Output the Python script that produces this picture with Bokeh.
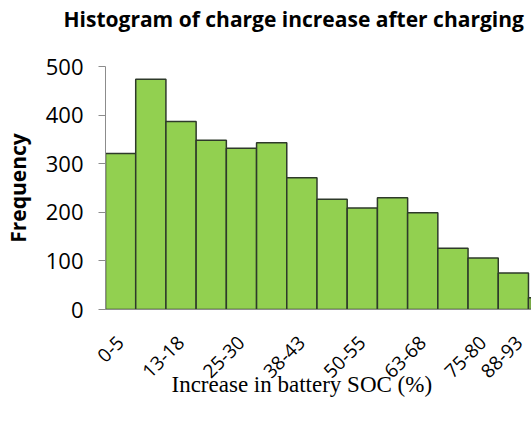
import math
from bokeh.plotting import figure
from bokeh.models import Range1d, FixedTicker, Title, LinearAxis
from bokeh.embed import file_html
from bokeh.resources import INLINE

# Data
bins = ["0-5", "6-12", "13-18", "19-24", "25-30", "31-37", "38-43", "44-49",
        "50-55", "56-62", "63-68", "69-74", "75-80", "81-87", "88-93"]
freq = [321, 474, 387, 348, 332, 343, 271, 227, 209, 230, 199, 126, 106, 75, 24]
y_ticks = [0, 100, 200, 300, 400, 500]
title_text = "Histogram of charge increase after charging"
x_label = "Increase in battery SOC (%)"
y_label = "Frequency"

positions = list(range(1, len(bins) + 1))
x_start, x_end = 0.5, 14.6

# every other bin is labelled; the last bar is cut off by the chart edge,
# so its label is pulled inside the visible part of the chart
tick_pos = positions[::2]
tick_pos[-1] = positions[-1] - 0.8
tick_text = {t: bins[i * 2] for i, t in enumerate(tick_pos)}

p = figure(width=531, height=431, output_backend="svg", toolbar_location=None,
           x_range=Range1d(x_start, x_end), y_range=Range1d(0, 500),
           min_border_left=102, min_border_right=0, min_border_top=66,
           min_border_bottom=122)
p.outline_line_color = None
p.xgrid.grid_line_color = None
p.ygrid.grid_line_color = None

p.vbar(x=positions, top=freq, width=1.0, bottom=0,
       fill_color="#92d050", line_color="#2e3a2a", line_width=1.5)

xaxis_main = p.below[0]
yaxis_main = p.left[0]

# invisible spacer axis between frame and title (one hidden tick, no label)
spacer = LinearAxis(ticker=FixedTicker(ticks=[positions[0]]),
                    major_label_overrides={positions[0]: ""},
                    axis_line_color=None, major_tick_line_color=None,
                    minor_tick_line_color=None, major_tick_out=34,
                    major_tick_in=0, major_label_standoff=0,
                    major_label_text_font_size="1px",
                    major_label_text_alpha=0)
p.add_layout(spacer, "above")

p.title.text = title_text
p.title.align = "left"
p.title.offset = -42
p.title.standoff = 0
p.title.text_font = "Open Sans"
p.title.text_font_style = "bold"
p.title.text_font_size = "21px"
p.title.text_color = "black"

# Y axis
yaxis_main.ticker = FixedTicker(ticks=y_ticks)
yaxis_main.axis_line_color = "#8c8c8c"
yaxis_main.major_tick_line_color = "#8c8c8c"
yaxis_main.major_tick_out = 7
yaxis_main.major_tick_in = 0
yaxis_main.minor_tick_line_color = None
yaxis_main.major_label_text_font = "Open Sans"
yaxis_main.major_label_text_font_size = "22px"
yaxis_main.major_label_text_color = "black"
yaxis_main.major_label_standoff = 15
yaxis_main.axis_label = y_label
yaxis_main.axis_label_text_font = "Open Sans"
yaxis_main.axis_label_text_font_style = "bold"
yaxis_main.axis_label_text_font_size = "21px"
yaxis_main.axis_label_text_color = "black"
yaxis_main.axis_label_standoff = 11

# X axis
xaxis_main.ticker = FixedTicker(ticks=tick_pos)
xaxis_main.major_label_overrides = tick_text
xaxis_main.major_label_orientation = math.pi / 4
xaxis_main.axis_line_color = "#8c8c8c"
xaxis_main.major_tick_line_color = None
xaxis_main.minor_tick_line_color = None
xaxis_main.major_label_text_font = "Open Sans"
xaxis_main.major_label_text_font_size = "19px"
xaxis_main.major_label_text_color = "black"
xaxis_main.major_label_standoff = 24

xt = Title(text=x_label, align="left", offset=66, vertical_align="top",
           text_font="Liberation Serif", text_font_style="normal",
           text_font_size="23px", text_color="black", standoff=-30)
p.add_layout(xt, "below")

open("out.html", "w").write(file_html(p, INLINE))
